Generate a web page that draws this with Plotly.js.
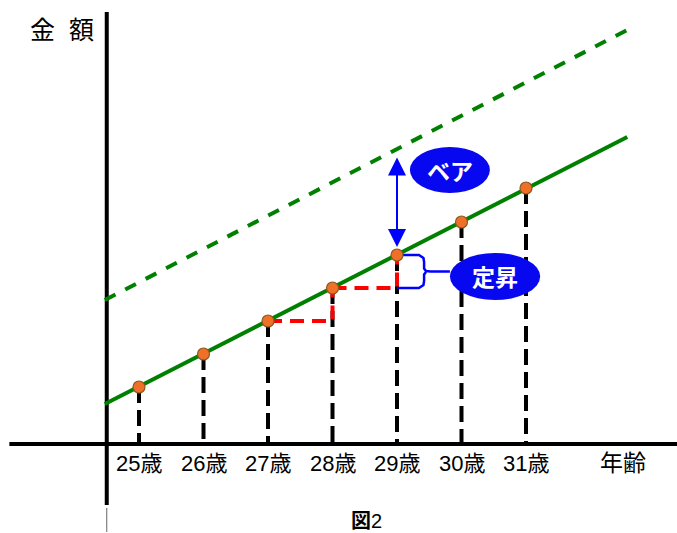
<!DOCTYPE html>
<html>
<head>
<meta charset="utf-8">
<script src="https://cdn.plot.ly/plotly-3.0.1.min.js"></script>
<style>html,body{margin:0;padding:0;background:#fff;}#chart{width:677px;height:533px;}</style>
</head>
<body>
<div id="chart"></div>
<script>
// ---- data ----
const ages = [25, 26, 27, 28, 29, 30, 31];
const tickLabels = ['25歳', '26歳', '27歳', '28歳', '29歳', '30歳', '31歳'];
const salary = [5.7, 9.0, 12.3, 15.6, 18.9, 22.2, 25.6];     // 定昇 line (current table)
const lineAges = [24.47, 32.57];
const baseLine = [4.0, 30.7];       // solid green
const raisedLine = [14.4, 41.4];    // dashed green (after ベア)
const xTitle = '年齢';
const yTitle = '金&nbsp;&nbsp;額';
const figTitle = '<b>図</b>2';

// ---- helpers ----
const jp = 'Liberation Sans, Arial, Noto Sans CJK JP, sans-serif';
const interp = (xs, ys, x) => ys[0] + (ys[1] - ys[0]) * (x - xs[0]) / (xs[1] - xs[0]);

const traces = [];
// solid & dashed green lines
traces.push({x: lineAges, y: baseLine, mode: 'lines', line: {color: '#008000', width: 4}, hoverinfo: 'skip'});
traces.push({x: lineAges, y: raisedLine, mode: 'lines', line: {color: '#008000', width: 4, dash: '12px,11px'}, hoverinfo: 'skip'});
// black dashed verticals
ages.forEach((a, i) => {
  traces.push({x: [a, a], y: [salary[i], 0], mode: 'lines', line: {color: '#000', width: 4, dash: '16px,7px'}, hoverinfo: 'skip'});
});
// red step (27->28, 28->29)
for (let i = 2; i <= 3; i++) {
  traces.push({x: [ages[i], ages[i + 1], ages[i + 1]], y: [salary[i], salary[i], salary[i + 1]],
    mode: 'lines', line: {color: '#ff0000', width: 4, dash: '14px,8px'}, hoverinfo: 'skip'});
}
// blue brace between salary[3] and salary[4] at age 29
const bx = ages[4], yT = salary[4], yB = salary[3], ym = (yT + yB) / 2;
const w = 0.42;
traces.push({
  x: [bx + 0.05, bx + w - 0.08, bx + w - 0.01, bx + w, bx + w, bx + w + 0.03, bx + w + 0.1, bx + 0.82, null,
      bx + w + 0.03, bx + w, bx + w, bx + w - 0.01, bx + w - 0.08, bx],
  y: [yT, yT, yT - 0.3, yT - 0.7, ym + 0.3, ym + 0.05, ym, ym, null,
      ym - 0.05, ym - 0.3, yB + 0.7, yB + 0.3, yB, yB],
  mode: 'lines', line: {color: '#0000ff', width: 2.5}, hoverinfo: 'skip', connectgaps: false
});
// orange dots
traces.push({x: ages, y: salary, mode: 'markers',
  marker: {color: '#f07028', size: 12, line: {color: '#8a5a20', width: 1.2}}, hoverinfo: 'skip'});

const raisedAt29 = interp(lineAges, raisedLine, ages[4]);

const annotations = [];
ages.forEach((a, i) => {
  annotations.push({x: a, y: -1.9, xref: 'x', yref: 'y', text: tickLabels[i], showarrow: false,
    font: {family: jp, size: 22, color: '#000'}});
});
annotations.push({x: 32.5, y: -1.9, xref: 'x', yref: 'y', text: xTitle, showarrow: false,
  font: {family: jp, size: 23, color: '#000'}});
annotations.push({x: 23.81, y: 41.4, xref: 'x', yref: 'y', text: yTitle, showarrow: false,
  font: {family: jp, size: 25, color: '#000'}});
annotations.push({x: 28.52, y: -7.7, xref: 'x', yref: 'y', text: figTitle, showarrow: false,
  font: {family: jp, size: 20, color: '#000'}});
// ベア arrow
annotations.push({x: ages[4], y: salary[4], ax: ages[4], ay: raisedAt29, xref: 'x', yref: 'y', axref: 'x', ayref: 'y',
  text: '', showarrow: true, arrowside: 'end+start', arrowhead: 2, startarrowhead: 2,
  arrowsize: 1.8, startarrowsize: 1.8, arrowwidth: 2, arrowcolor: '#0000ff', standoff: 8, startstandoff: 7});
// ellipse texts
annotations.push({x: 29.82, y: 27.4, xref: 'x', yref: 'y', text: '<b>ベア</b>', showarrow: false,
  font: {family: 'Noto Sans CJK JP, sans-serif', size: 23, color: '#fff'}});
annotations.push({x: 30.52, y: 16.8, xref: 'x', yref: 'y', text: '<b>定昇</b>', showarrow: false,
  font: {family: 'Noto Sans CJK JP, sans-serif', size: 23, color: '#fff'}});

const shapes = [
  // x axis
  {type: 'line', xref: 'x', yref: 'y', x0: 22.99, x1: 33.4, y0: 0, y1: 0, line: {color: '#000', width: 4}, layer: 'below'},
  // y axis
  {type: 'line', xref: 'x', yref: 'y', x0: 24.50, x1: 24.50, y0: -6.1, y1: 43.2, line: {color: '#000', width: 4}, layer: 'below'},
  {type: 'line', xref: 'x', yref: 'y', x0: 24.50, x1: 24.50, y0: -6.4, y1: -8.8, line: {color: '#666', width: 1}, layer: 'below'},
  // ellipses
  {type: 'circle', xref: 'x', yref: 'y', x0: 29.2, x1: 30.44, y0: 25.1, y1: 29.7, fillcolor: '#0808f0', line: {width: 0}, layer: 'above'},
  {type: 'circle', xref: 'x', yref: 'y', x0: 29.82, x1: 31.22, y0: 14.4, y1: 19.1, fillcolor: '#0808f0', line: {width: 0}, layer: 'above'}
];

const layout = {
  width: 677, height: 533,
  margin: {l: 0, r: 0, t: 0, b: 0, pad: 0},
  paper_bgcolor: '#fff', plot_bgcolor: '#fff',
  showlegend: false,
  xaxis: {range: [22.845, 33.341], visible: false, fixedrange: true},
  yaxis: {range: [-8.9, 44.4], visible: false, fixedrange: true},
  shapes: shapes,
  annotations: annotations
};

Plotly.newPlot('chart', traces, layout, {staticPlot: true, displayModeBar: false});
</script>
</body>
</html>
